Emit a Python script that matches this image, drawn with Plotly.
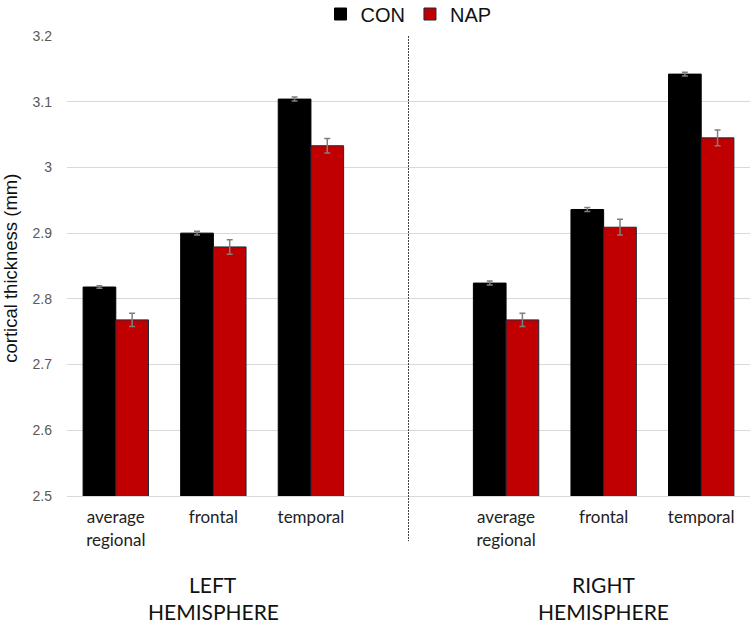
import plotly.graph_objects as go

categories = ["average<br>regional", "frontal", "temporal", "average<br>regional", "frontal", "temporal"]
positions = [0, 1, 2, 4, 5, 6]
con_values = [2.818, 2.900, 3.104, 2.824, 2.936, 3.142]
con_err = [0.002, 0.003, 0.003, 0.003, 0.003, 0.003]
nap_values = [2.768, 2.879, 3.033, 2.768, 2.909, 3.045]
nap_err = [0.010, 0.011, 0.011, 0.010, 0.012, 0.012]
hemisphere_side = ["LEFT", "RIGHT"]
hemisphere_word = "HEMISPHERE"
hemi_pos = [1, 5]

err_style = dict(type="data", color="#7f7f7f", thickness=1.5, width=3, visible=True)

fig = go.Figure()
fig.add_trace(go.Bar(
    name="CON", x=positions, y=con_values,
    marker=dict(color="#000000", line=dict(color="#000000", width=1)),
    error_y=dict(array=con_err, **err_style),
))
fig.add_trace(go.Bar(
    name="NAP", x=positions, y=nap_values,
    marker=dict(color="#C00000", line=dict(color="#1a2a3a", width=1)),
    error_y=dict(array=nap_err, **err_style),
))

fig.add_shape(type="line", xref="x", yref="paper", x0=3, x1=3, y0=1, y1=-0.098,
              line=dict(color="#444444", width=1, dash="2px,1px"))

for side, p in zip(hemisphere_side, hemi_pos):
    fig.add_annotation(text=side, x=p, xref="x", y=-0.192, yref="paper",
                       yanchor="middle", showarrow=False,
                       font=dict(size=21, color="#111111", family="Lato"))
    fig.add_annotation(text=hemisphere_word, x=p, xref="x", y=-0.2505, yref="paper",
                       yanchor="middle", showarrow=False,
                       font=dict(size=21, color="#111111", family="Lato"))

fig.add_annotation(text="cortical thickness (mm)", textangle=-90, xref="paper", yref="paper",
                   x=0, xshift=-56, y=0.494, showarrow=False, xanchor="center", yanchor="middle",
                   font=dict(size=18.5, color="#111111", family="Liberation Sans"))

fig.update_layout(
    width=750, height=624,
    margin=dict(l=67, r=0, t=36, b=128, autoexpand=False),
    plot_bgcolor="white", paper_bgcolor="white",
    barmode="group", bargap=0.33, bargroupgap=0,
    font=dict(family="Lato", color="#222222"),
    legend=dict(orientation="h", x=0.5, xanchor="center", yref="container",
                y=1 - 14 / 624, yanchor="middle",
                font=dict(size=20, color="#111111", family="Liberation Sans"),
                itemwidth=30, traceorder="normal"),
    xaxis=dict(range=[-0.5, 6.5], tickmode="array", tickvals=positions, ticktext=categories,
               showgrid=False, showline=True, linecolor="#d9d9d9", linewidth=1,
               ticks="", tickfont=dict(size=17, color="#222222"), zeroline=False,
               ticklabelstandoff=6),
    yaxis=dict(range=[2.5, 3.2], dtick=0.1, tick0=2.5, showgrid=True, gridcolor="#d9d9d9",
               gridwidth=1, zeroline=False, showline=False,
               tickfont=dict(size=14, color="#595959", family="Liberation Sans"), ticks="",
               tickformat="~g", ticklabelstandoff=14),
)

fig.write_html("out.html")
